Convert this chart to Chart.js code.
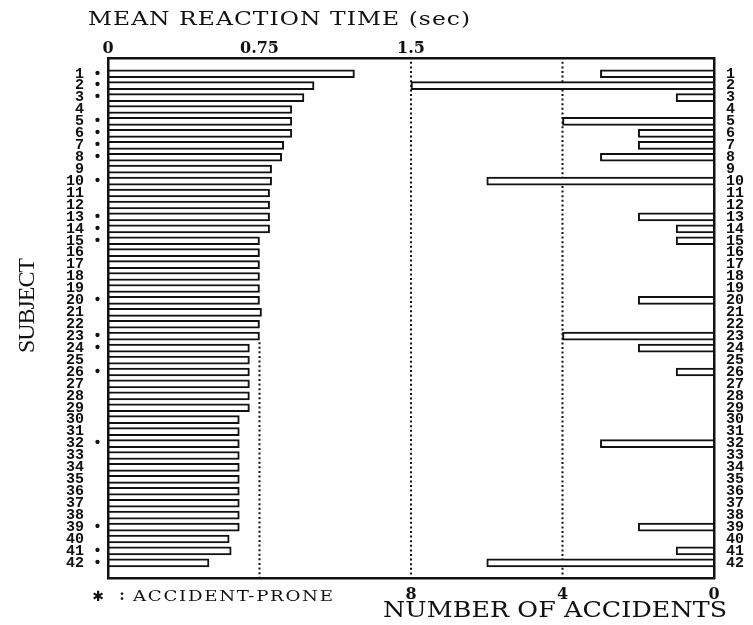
<!DOCTYPE html>
<html>
<head>
<meta charset="utf-8">
<script src="https://cdn.jsdelivr.net/npm/chart.js@4.4.0/dist/chart.umd.min.js"></script>
<style>
  html, body { margin: 0; padding: 0; background: #fff; }
  canvas { display: block; }
</style>
</head>
<body>
<canvas id="chart" width="753" height="625"></canvas>
<script>
// Subjects, ordered by mean reaction time
const subjects = [1, 2, 3, 4, 5, 6, 7, 8, 9, 10, 11, 12, 13, 14, 15, 16, 17, 18, 19, 20, 21,
                  22, 23, 24, 25, 26, 27, 28, 29, 30, 31, 32, 33, 34, 35, 36, 37, 38, 39, 40, 41, 42];

// Mean reaction time (sec)
const meanReactionTime = [1.22, 1.02, 0.97, 0.91, 0.91, 0.91, 0.87, 0.86, 0.81, 0.81, 0.80, 0.80, 0.80, 0.80,
                          0.75, 0.75, 0.75, 0.75, 0.75, 0.75, 0.76, 0.75, 0.75,
                          0.70, 0.70, 0.70, 0.70, 0.70, 0.70,
                          0.65, 0.65, 0.65, 0.65, 0.65, 0.65, 0.65, 0.65, 0.65, 0.65,
                          0.60, 0.61, 0.50];

// Number of accidents per subject
const accidents = [3, 8, 1, 0, 4, 2, 2, 3, 0, 6, 0, 0, 2, 1, 1, 0, 0, 0, 0, 2, 0,
                   0, 4, 2, 0, 1, 0, 0, 0, 0, 0, 3, 0, 0, 0, 0, 0, 0, 2, 0, 1, 6];

// Subjects marked as accident-prone
const accidentProne = [1, 2, 3, 5, 6, 7, 8, 10, 13, 14, 15, 20, 23, 24, 26, 32, 39, 41, 42];

// Axis ticks
const timeTicks = [0, 0.75, 1.5];
const accidentTicks = [8, 4, 0];

// Dotted reference lines (value, and the subject row they start below)
const timeGuides = [{ value: 0.75, fromSubject: 23.5 }, { value: 1.5, fromSubject: 0 }];
const accidentGuides = [{ value: 4, fromSubject: 0 }];

const INK = '#111';
const tickFontSerif = { family: '"DejaVu Serif", serif', size: 16, weight: 'bold' };
const tickFontMono = { family: '"Liberation Mono", monospace', size: 15, weight: 'bold' };

// Draws text widened by `stretch`, with letter spacing so it spans `width`
function fitText(ctx, text, x, y, width, font, stretch) {
  const sx = stretch || 1;
  ctx.save();
  ctx.font = font;
  ctx.letterSpacing = '0px';
  ctx.textAlign = 'left';
  ctx.textBaseline = 'middle';
  ctx.fillStyle = INK;
  const base = ctx.measureText(text).width;
  const n = Array.from(text).length;
  const ls = n > 1 ? (width / sx - base) / (n - 1) : 0;
  ctx.letterSpacing = ls.toFixed(2) + 'px';
  ctx.translate(x, y);
  ctx.scale(sx, 1);
  ctx.fillText(text, 0, 0);
  ctx.restore();
}

const guidesAndTitles = {
  id: 'guidesAndTitles',
  beforeDatasetsDraw(chart) {
    const { ctx, chartArea, scales } = chart;
    ctx.save();
    ctx.strokeStyle = INK;
    ctx.lineWidth = 2;
    ctx.setLineDash([2, 2.6]);
    const drawGuide = (scale, g) => {
      const px = scale.getPixelForValue(g.value);
      const top = Math.max(chartArea.top, scales.y.getPixelForValue(g.fromSubject));
      ctx.beginPath();
      ctx.moveTo(px, top);
      ctx.lineTo(px, chartArea.bottom);
      ctx.stroke();
    };
    timeGuides.forEach(g => drawGuide(scales.x, g));
    accidentGuides.forEach(g => drawGuide(scales.x2, g));
    ctx.restore();
  },
  afterDraw(chart) {
    const ctx = chart.ctx;
    // top axis title
    fitText(ctx, 'MEAN REACTION TIME (sec)', 88, 20, 382, '18px "DejaVu Serif", serif', 1.3);
    // bottom axis title
    fitText(ctx, 'NUMBER OF ACCIDENTS', 383, 611, 344, '22px "DejaVu Serif", serif', 1.15);
    // marker key
    ctx.save();
    ctx.fillStyle = INK;
    ctx.textAlign = 'center';
    ctx.textBaseline = 'middle';
    ctx.font = 'bold 14px "DejaVu Sans", sans-serif';
    ctx.fillText('\u2731', 98, 597);
    ctx.font = 'bold 15px "DejaVu Serif", serif';
    ctx.fillText(':', 122, 596);
    ctx.restore();
    fitText(ctx, 'ACCIDENT-PRONE', 133, 597, 200, '14px "DejaVu Serif", serif', 1.3);
    // vertical subject title
    ctx.save();
    ctx.translate(28, 306);
    ctx.rotate(-Math.PI / 2);
    fitText(ctx, 'SUBJECT', -47, 0, 95, '24px "Liberation Serif", serif', 1);
    ctx.restore();
  }
};

const barStyle = {
  backgroundColor: '#fff',
  borderColor: INK,
  borderWidth: 2,
  barThickness: 8,
  grouped: false,
  borderSkipped: 'start'
};

const hiddenGrid = { display: false, drawTicks: false };
const frameBorder = { display: true, color: INK, width: 2.5, z: 1 };
const subjectTicks = scale => { scale.ticks = subjects.map(v => ({ value: v })); };

new Chart(document.getElementById('chart'), {
  type: 'bar',
  data: {
    datasets: [
      Object.assign({
        label: 'Mean reaction time (sec)',
        data: subjects.map((s, i) => ({ x: meanReactionTime[i], y: s })),
        xAxisID: 'x',
        yAxisID: 'y'
      }, barStyle),
      Object.assign({
        label: 'Number of accidents',
        data: subjects.map((s, i) => ({ x: accidents[i], y: s })),
        xAxisID: 'x2',
        yAxisID: 'y'
      }, barStyle)
    ]
  },
  options: {
    indexAxis: 'y',
    responsive: false,
    animation: false,
    layout: { padding: 0 },
    plugins: {
      legend: { display: false },
      tooltip: { enabled: false },
      title: { display: false }
    },
    scales: {
      x: {
        type: 'linear',
        position: 'top',
        min: 0,
        max: 3,
        grid: hiddenGrid,
        border: frameBorder,
        ticks: {
          color: INK,
          font: tickFontSerif,
          padding: 0,
          maxRotation: 0,
          autoSkip: false,
          callback: v => String(v)
        },
        afterBuildTicks: s => { s.ticks = timeTicks.map(v => ({ value: v })); },
        afterFit: s => { s.height = 58; }
      },
      x2: {
        type: 'linear',
        position: 'bottom',
        reverse: true,
        min: 0,
        max: 16,
        grid: hiddenGrid,
        border: frameBorder,
        ticks: {
          color: INK,
          font: tickFontSerif,
          padding: 7,
          maxRotation: 0,
          autoSkip: false,
          callback: v => String(v)
        },
        afterBuildTicks: s => { s.ticks = accidentTicks.map(v => ({ value: v })); },
        afterFit: s => { s.height = 47; }
      },
      y: {
        type: 'linear',
        position: 'left',
        reverse: true,
        min: 0.2,
        max: 42.75,
        grid: hiddenGrid,
        border: frameBorder,
        ticks: {
          color: INK,
          font: tickFontMono,
          padding: 6,
          autoSkip: false,
          callback: v => accidentProne.includes(v) ? v + ' \u2022' : v + '  '
        },
        afterBuildTicks: subjectTicks,
        afterFit: s => { s.width = 108; }
      },
      y2: {
        type: 'linear',
        position: 'right',
        reverse: true,
        min: 0.2,
        max: 42.75,
        grid: hiddenGrid,
        border: frameBorder,
        ticks: {
          color: INK,
          font: tickFontMono,
          padding: 12,
          autoSkip: false,
          callback: v => String(v)
        },
        afterBuildTicks: subjectTicks,
        afterFit: s => { s.width = 39; }
      }
    }
  },
  plugins: [guidesAndTitles]
});
</script>
</body>
</html>
